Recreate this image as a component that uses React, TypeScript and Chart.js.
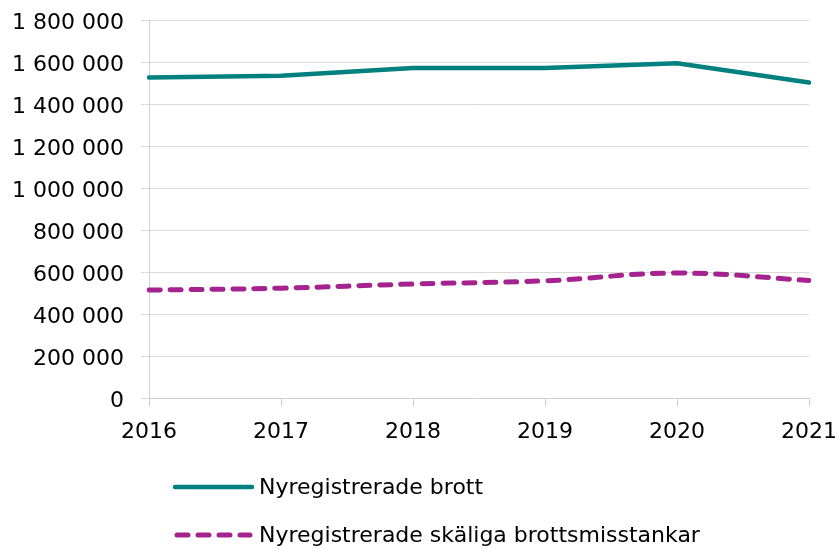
import React, { useEffect, useRef } from "react";
import { Chart, registerables } from "chart.js";

Chart.register(...registerables);

const years = ["2016", "2017", "2018", "2019", "2020", "2021"];
const brott = [1526000, 1535000, 1571000, 1572000, 1594000, 1502000];
const misstankar = [514000, 523000, 543000, 558000, 595000, 560000];
const seriesNames = ["Nyregistrerade brott", "Nyregistrerade skäliga brottsmisstankar"];
const yMin = 0;
const yMax = 1800000;
const yStep = 200000;

const FONT = "'DejaVu Sans', sans-serif";

const fmt = (v: number) => String(Math.round(v)).replace(/\B(?=(\d{3})+(?!\d))/g, " ");

const legendPlugin = {
  id: "customLegend",
  afterDraw(chart: any) {
    const ctx = chart.ctx;
    const datasets = chart.data.datasets;
    ctx.save();
    datasets.forEach((ds: any, i: number) => {
      const y = 487 + i * 48;
      ctx.beginPath();
      ctx.strokeStyle = ds.borderColor;
      ctx.lineWidth = ds.borderWidth;
      ctx.lineCap = ds.borderCapStyle || "butt";
      ctx.setLineDash(ds.borderDash || []);
      ctx.moveTo(ds.borderDash ? 177 : 175, y);
      ctx.lineTo(ds.borderDash ? 250 : 252, y);
      ctx.stroke();
      ctx.setLineDash([]);
      ctx.fillStyle = "#000";
      ctx.font = `22px ${FONT}`;
      ctx.textBaseline = "middle";
      ctx.textAlign = "left";
      ctx.fillText(ds.label, 259, y + 1);
    });
    ctx.restore();
  },
};

export default function App() {
  const ref = useRef<HTMLCanvasElement | null>(null);
  useEffect(() => {
    document.body.style.margin = "0";
    const canvas = ref.current!;
    const chart = new Chart(canvas, {
      type: "line",
      data: {
        labels: years,
        datasets: [
          {
            label: seriesNames[0],
            data: brott,
            borderColor: "#00817F",
            backgroundColor: "#00817F",
            borderWidth: 4.5,
            pointRadius: 0,
            tension: 0,
            borderCapStyle: "round",
            borderJoinStyle: "round",
          },
          {
            label: seriesNames[1],
            data: misstankar,
            borderColor: "#A4238F",
            backgroundColor: "#A4238F",
            borderWidth: 5,
            borderDash: [11, 10],
            borderCapStyle: "round",
            pointRadius: 0,
            tension: 0.4,
          },
        ],
      },
      options: {
        responsive: false,
        animation: false,
        devicePixelRatio: 1,
        layout: { padding: { left: 0, right: 30, top: 20, bottom: 0 } },
        plugins: { legend: { display: false }, tooltip: { enabled: false } },
        scales: {
          x: {
            offset: false,
            grid: {
              drawOnChartArea: false,
              drawTicks: true,
              tickLength: 8,
              color: "#d0d0d0",
            },
            border: { color: "#d0d0d0" },
            ticks: {
              color: "#000",
              font: { family: FONT, size: 22 },
              padding: 13,
              maxRotation: 0,
              autoSkip: false,
            },
            afterFit: (scale: any) => {
              scale.height = 151;
              scale.paddingLeft = 0;
              scale.paddingRight = 0;
            },
          },
          y: {
            min: yMin,
            max: yMax,
            grid: {
              color: "#d9d9d9",
              tickLength: 8,
              drawTicks: true,
            },
            border: { color: "#d0d0d0" },
            ticks: {
              stepSize: yStep,
              color: "#000",
              font: { family: FONT, size: 22 },
              padding: 17,
              labelOffset: 3,
              callback: (v: any) => fmt(Number(v)),
            },
            afterFit: (scale: any) => {
              scale.width = 149;
              scale.paddingTop = 0;
              scale.paddingBottom = 0;
            },
          },
        },
      },
      plugins: [legendPlugin],
    });
    return () => chart.destroy();
  }, []);
  return (
    <canvas ref={ref} width={839} height={549} style={{ display: "block" }} />
  );
}
